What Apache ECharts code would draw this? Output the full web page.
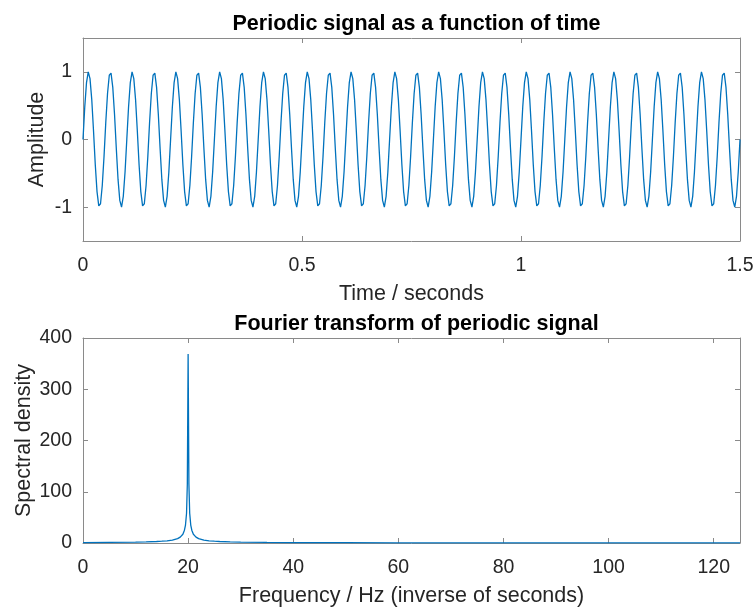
<!DOCTYPE html>
<html>
<head>
<meta charset="utf-8">
<script src="https://cdn.jsdelivr.net/npm/echarts@6/dist/echarts.min.js"></script>
<style>
html,body{margin:0;padding:0;background:#fff;}
#chart{width:756px;height:607px;}
</style>
</head>
<body>
<div id="chart"></div>
<script>
// ---- Data ----
const topTitle = 'Periodic signal as a function of time';
const bottomTitle = 'Fourier transform of periodic signal';
const timeStep = 0.004; // sample spacing in seconds (250 samples per second)
const amplitude = [
  0,0.48,0.84,1.00,0.90,0.59,0.13,-0.37,-0.77,-0.98,-0.95,-0.68,-0.25,0.25,0.68,0.95,0.98,0.77,0.37,-0.13,-0.59,-0.90,-1.00,-0.84,-0.48,
  0,0.48,0.84,1.00,0.90,0.59,0.13,-0.37,-0.77,-0.98,-0.95,-0.68,-0.25,0.25,0.68,0.95,0.98,0.77,0.37,-0.13,-0.59,-0.90,-1.00,-0.84,-0.48,
  0,0.48,0.84,1.00,0.90,0.59,0.13,-0.37,-0.77,-0.98,-0.95,-0.68,-0.25,0.25,0.68,0.95,0.98,0.77,0.37,-0.13,-0.59,-0.90,-1.00,-0.84,-0.48,
  0,0.48,0.84,1.00,0.90,0.59,0.13,-0.37,-0.77,-0.98,-0.95,-0.68,-0.25,0.25,0.68,0.95,0.98,0.77,0.37,-0.13,-0.59,-0.90,-1.00,-0.84,-0.48,
  0,0.48,0.84,1.00,0.90,0.59,0.13,-0.37,-0.77,-0.98,-0.95,-0.68,-0.25,0.25,0.68,0.95,0.98,0.77,0.37,-0.13,-0.59,-0.90,-1.00,-0.84,-0.48,
  0,0.48,0.84,1.00,0.90,0.59,0.13,-0.37,-0.77,-0.98,-0.95,-0.68,-0.25,0.25,0.68,0.95,0.98,0.77,0.37,-0.13,-0.59,-0.90,-1.00,-0.84,-0.48,
  0,0.48,0.84,1.00,0.90,0.59,0.13,-0.37,-0.77,-0.98,-0.95,-0.68,-0.25,0.25,0.68,0.95,0.98,0.77,0.37,-0.13,-0.59,-0.90,-1.00,-0.84,-0.48,
  0,0.48,0.84,1.00,0.90,0.59,0.13,-0.37,-0.77,-0.98,-0.95,-0.68,-0.25,0.25,0.68,0.95,0.98,0.77,0.37,-0.13,-0.59,-0.90,-1.00,-0.84,-0.48,
  0,0.48,0.84,1.00,0.90,0.59,0.13,-0.37,-0.77,-0.98,-0.95,-0.68,-0.25,0.25,0.68,0.95,0.98,0.77,0.37,-0.13,-0.59,-0.90,-1.00,-0.84,-0.48,
  0,0.48,0.84,1.00,0.90,0.59,0.13,-0.37,-0.77,-0.98,-0.95,-0.68,-0.25,0.25,0.68,0.95,0.98,0.77,0.37,-0.13,-0.59,-0.90,-1.00,-0.84,-0.48,
  0,0.48,0.84,1.00,0.90,0.59,0.13,-0.37,-0.77,-0.98,-0.95,-0.68,-0.25,0.25,0.68,0.95,0.98,0.77,0.37,-0.13,-0.59,-0.90,-1.00,-0.84,-0.48,
  0,0.48,0.84,1.00,0.90,0.59,0.13,-0.37,-0.77,-0.98,-0.95,-0.68,-0.25,0.25,0.68,0.95,0.98,0.77,0.37,-0.13,-0.59,-0.90,-1.00,-0.84,-0.48,
  0,0.48,0.84,1.00,0.90,0.59,0.13,-0.37,-0.77,-0.98,-0.95,-0.68,-0.25,0.25,0.68,0.95,0.98,0.77,0.37,-0.13,-0.59,-0.90,-1.00,-0.84,-0.48,
  0,0.48,0.84,1.00,0.90,0.59,0.13,-0.37,-0.77,-0.98,-0.95,-0.68,-0.25,0.25,0.68,0.95,0.98,0.77,0.37,-0.13,-0.59,-0.90,-1.00,-0.84,-0.48,
  0,0.48,0.84,1.00,0.90,0.59,0.13,-0.37,-0.77,-0.98,-0.95,-0.68,-0.25,0.25,0.68,0.95,0.98,0.77,0.37,-0.13,-0.59,-0.90,-1.00,-0.84,-0.48,
  0
];
const frequency = [0,5,10,12,14,15,16,17,18,18.5,19,19.3,19.5,19.7,19.85,20,20.15,20.3,20.5,20.7,21,21.5,22,23,24,25,26,28,30,35,40,50,60,80,100,125];
const density   = [0.9,1.2,1.7,2.1,2.9,3.5,4.3,5.8,8.5,11.5,17,25,35,58,115,369,115,58,35,25,17,11.5,8.5,5.8,4.3,3.5,2.9,2.1,1.7,1.15,0.85,0.57,0.43,0.28,0.21,0.16];
const timeTicks = [0,0.5,1,1.5];
const ampTicks = [-1,0,1];
const freqTicks = [0,20,40,60,80,100,120];
const densityTicks = [0,100,200,300,400];

// ---- Build ----
const signalData = amplitude.map((v, i) => [i * timeStep, v]);
const spectrumData = frequency.map((f, i) => [f, density[i]]);

const FONT = '"Liberation Sans", Arial, Helvetica, sans-serif';
const axisGray = '#8a8a8a';
const labelColor = '#262626';
const lineBlue = '#0072BD';
const TICK_FS = 19.5;
const NAME_FS = 21.5;

function mainX(gridIndex, min, max, ticks, name) {
  return {
    type: 'value', gridIndex, min, max, position: 'bottom',
    name, nameLocation: 'middle', nameGap: 42, nameMoveOverlap: false,
    nameTextStyle: { fontFamily: FONT, fontSize: NAME_FS, color: labelColor },
    axisLine: { show: true, onZero: false, lineStyle: { color: axisGray, width: 1 } },
    axisTick: { show: true, inside: true, length: 5, customValues: ticks, lineStyle: { color: axisGray } },
    axisLabel: { show: true, customValues: ticks, margin: 15, fontFamily: FONT, fontSize: TICK_FS, color: labelColor },
    splitLine: { show: false }
  };
}
function topX(gridIndex, min, max, ticks) {
  return {
    type: 'value', gridIndex, min, max, position: 'top',
    axisLine: { show: true, onZero: false, lineStyle: { color: axisGray, width: 1 } },
    axisTick: { show: true, inside: true, length: 5, customValues: ticks, lineStyle: { color: axisGray } },
    axisLabel: { show: false },
    splitLine: { show: false }
  };
}
function mainY(gridIndex, min, max, ticks, name, gap) {
  return {
    type: 'value', gridIndex, min, max, position: 'left',
    name, nameLocation: 'middle', nameGap: gap, nameMoveOverlap: false,
    nameTextStyle: { fontFamily: FONT, fontSize: NAME_FS, color: labelColor },
    axisLine: { show: true, onZero: false, lineStyle: { color: axisGray, width: 1 } },
    axisTick: { show: true, inside: true, length: 5, customValues: ticks, lineStyle: { color: axisGray } },
    axisLabel: { show: true, customValues: ticks, margin: 11, fontFamily: FONT, fontSize: TICK_FS, color: labelColor },
    splitLine: { show: false }
  };
}
function rightY(gridIndex, min, max, ticks) {
  return {
    type: 'value', gridIndex, min, max, position: 'right',
    axisLine: { show: true, onZero: false, lineStyle: { color: axisGray, width: 1 } },
    axisTick: { show: true, inside: true, length: 5, customValues: ticks, lineStyle: { color: axisGray } },
    axisLabel: { show: false },
    splitLine: { show: false }
  };
}

const option = {
  animation: false,
  backgroundColor: '#ffffff',
  title: [
    { text: topTitle, left: 411.5, top: 8, textAlign: 'center',
      textStyle: { fontFamily: FONT, fontSize: NAME_FS, fontWeight: 'bold', color: '#000' } },
    { text: bottomTitle, left: 411.5, top: 308, textAlign: 'center',
      textStyle: { fontFamily: FONT, fontSize: NAME_FS, fontWeight: 'bold', color: '#000' } }
  ],
  grid: [
    { left: 83, top: 38, width: 657, height: 203, outerBoundsMode: 'none', containLabel: false },
    { left: 83, top: 338, width: 657, height: 205, outerBoundsMode: 'none', containLabel: false }
  ],
  xAxis: [
    mainX(0, 0, 1.5, timeTicks, 'Time / seconds'),
    topX(0, 0, 1.5, timeTicks),
    mainX(1, 0, 125, freqTicks, 'Frequency / Hz (inverse of seconds)'),
    topX(1, 0, 125, freqTicks)
  ],
  yAxis: [
    mainY(0, -1.5, 1.5, ampTicks, 'Amplitude', 35),
    rightY(0, -1.5, 1.5, ampTicks),
    mainY(1, 0, 400, densityTicks, 'Spectral density', 48),
    rightY(1, 0, 400, densityTicks)
  ],
  series: [
    { type: 'line', xAxisIndex: 0, yAxisIndex: 0, data: signalData, showSymbol: false,
      lineStyle: { color: lineBlue, width: 1.3 }, itemStyle: { color: lineBlue } },
    { type: 'line', xAxisIndex: 2, yAxisIndex: 2, data: spectrumData, showSymbol: false,
      lineStyle: { color: lineBlue, width: 1.3 }, itemStyle: { color: lineBlue } }
  ]
};

const chart = echarts.init(document.getElementById('chart'), null, { renderer: 'canvas' });
chart.setOption(option);
</script>
</body>
</html>
